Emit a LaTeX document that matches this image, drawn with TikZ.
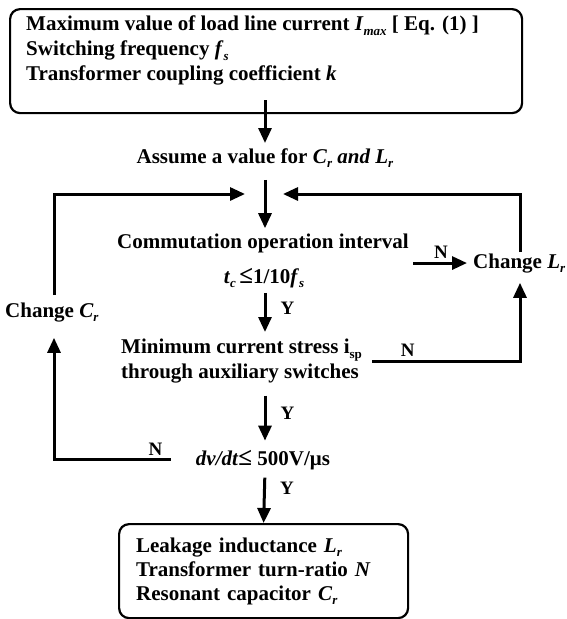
\documentclass[tikz,border=0pt]{standalone}
\usepackage{fontspec}
\setmainfont{Liberation Serif}
\usetikzlibrary{arrows.meta}
% bold italic symbol, italic subscript, upright subscript, large relation sign
\newcommand{\bvar}[1]{\textbf{\textit{#1}}}
\newcommand{\isub}[1]{\raisebox{-0.22em}{\fontsize{13}{13}\selectfont\textit{#1}}}
\newcommand{\rsub}[1]{\raisebox{-0.22em}{\fontsize{13}{13}\selectfont #1}}
\newcommand{\bigle}{{\fontsize{25}{25}\selectfont ≤}}
\begin{document}
\begin{tikzpicture}[x=1pt,y=-1pt,
  every node/.style={inner sep=0pt, font=\fontsize{21}{25}\selectfont\bfseries},
  box/.style={draw, line width=2.2pt, rounded corners=10pt},
  flow/.style={line width=3pt, -{Triangle[length=15pt,width=13pt]}},
  yn/.style={font=\fontsize{19}{19}\selectfont\bfseries}]
\fill[white] (0,0) rectangle (566,619);
\useasboundingbox (0,0) rectangle (566,619);

% main axis and loop corners
\coordinate (axis) at (265,0);
\coordinate (merge) at (265,194);
\coordinate (lft) at (54,194);
\coordinate (rgt) at (520,194);

% input data
\node[box, anchor=north west, minimum width=512pt, minimum height=104pt] (top) at (9,8) {};
\node[anchor=north west, align=left] (topText) at (26,16)
  {Maximum value of load line current \bvar{I}\isub{max} [ Eq. (1) ]\\
   Switching frequency \bvar{f}\isub{s}\\
   Transformer coupling coefficient \bvar{k}};

% design steps
\node[anchor=base] (assume) at (265,163) {Assume a value for \bvar{C}\isub{r}\bvar{ and L}\isub{r}};
\node[anchor=base] (commA) at (263,248) {Commutation operation interval};
\node[anchor=base] (commB) at (264,283) {\bvar{t}\isub{c}\,\bigle1/10\bvar{f}\isub{s}};
\node[anchor=base west] (changeL) at (473,268) {Change \bvar{L}\isub{r}};
\node[anchor=north west, align=left] (stress) at (121,339)
  {Minimum current stress i\rsub{sp}\\ through auxiliary switches};
\node[anchor=base west] (changeC) at (5,317) {Change \bvar{C}\isub{r}};
\node[anchor=base] (dvdt) at (263,465) {\bvar{dv/dt}\bigle\ 500V/μs};

% results
\node[box, anchor=north west, align=left, text width=255pt, inner xsep=17pt,
      minimum height=94pt, font=\fontsize{21}{24}\selectfont\bfseries] (result) at (118,523)
  {Leakage inductance \bvar{L}\isub{r}\\
   Transformer turn-ratio \bvar{N}\\
   Resonant capacitor \bvar{C}\isub{r}};

% forward flow
\draw[flow, shorten >=5pt] ([yshift=14pt]top.south -| axis) -- (assume.north -| axis);
\draw[flow, shorten <=12pt, shorten >=5pt] (assume.south -| axis) -- (commA.north -| axis);
\draw[flow, shorten <=5pt, shorten >=7pt] (commB.south -| axis)
  -- node[yn, anchor=west, xshift=14pt, pos=0.4] (y1) {Y} (stress.north -| axis);
\draw[flow, shorten <=12pt, shorten >=9pt] (stress.south -| axis)
  -- node[yn, anchor=west, xshift=14pt, pos=0.45] (y2) {Y} (dvdt.north -| axis);
\draw[flow, shorten <=8pt] (dvdt.south -| axis)
  -- node[yn, anchor=west, xshift=14pt, pos=0.35] (y3) {Y} (result.north);

% "no" branches
\draw[flow, shorten <=4pt, shorten >=6pt] (commA.east |- changeL.west)
  -- node[yn, above=3pt] (n1) {N} (changeL.west);
\draw[flow] ([xshift=10pt]stress.east)
  -- node[yn, above=3pt, pos=0.24] (n2) {N} (stress.east -| rgt)
  -- ([yshift=-10pt]changeL.south -| rgt);
\draw[flow] ([xshift=-25pt]dvdt.west)
  -- node[yn, above=3pt, pos=0.13] (n3) {N} (dvdt.west -| lft)
  -- ([yshift=-16pt]changeC.south -| lft);

% feedback to the loop entry
\draw[flow] ([yshift=7pt]changeC.north -| lft) -- (lft) -- ([xshift=-20pt]merge);
\draw[flow] ([yshift=1pt]changeL.north -| rgt) -- (rgt) -- ([xshift=18pt]merge);
\end{tikzpicture}
\end{document}
